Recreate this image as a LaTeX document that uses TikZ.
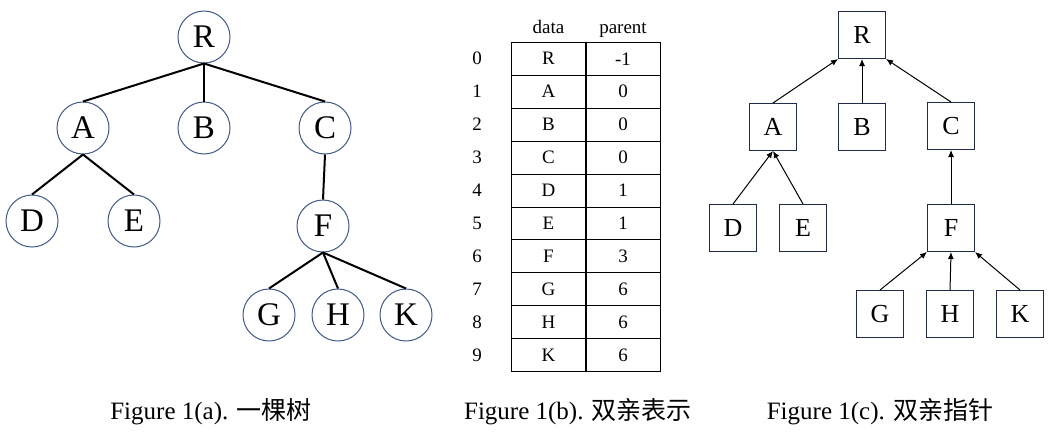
\documentclass[tikz,border=0pt]{standalone}
\usepackage{fontspec}
\setmainfont{Liberation Serif}
\newfontfamily\cjk{Noto Sans CJK SC}
\usepackage{tikz}
\usetikzlibrary{positioning,calc,arrows.meta}
\definecolor{CircleLine}{HTML}{41598B}
\definecolor{BoxLine}{HTML}{1F2D4A}

\tikzset{
	treenode/.style={
		circle,
		draw=CircleLine,
		line width=0.5pt,
		minimum size=26pt,
		inner sep=0pt,
		font=\fontsize{16.5}{18}\selectfont
	},
	treeedge/.style={black, line width=1pt},
	cell/.style={
		draw=black,
		line width=0.5pt,
		minimum width=37pt,
		minimum height=16.47pt,
		inner sep=0pt,
		font=\fontsize{9.5}{11}\selectfont
	},
	rowlabel/.style={inner sep=0pt, font=\fontsize{9.5}{11}\selectfont},
	ptrnode/.style={
		rectangle,
		draw=BoxLine,
		line width=0.5pt,
		minimum size=23.5pt,
		inner sep=0pt,
		font=\fontsize{13}{15}\selectfont
	},
	ptredge/.style={black, line width=0.5pt, -{Latex[length=3.5pt,width=3pt]}},
	caption/.style={anchor=base, inner sep=0pt, font=\fontsize{12.5}{14}\selectfont}
}

\begin{document}
\begin{tikzpicture}[x=0.5pt, y=-0.5pt]
	\useasboundingbox (0,0) rectangle (1052,439);

	% (a) tree
	\node[treenode] (aR) at (204,37) {R};
	\node[treenode] (aA) at (83,128) {A};
	\node[treenode] (aB) at (204,128) {B};
	\node[treenode] (aC) at (325,128) {C};
	\node[treenode] (aD) at (32,221) {D};
	\node[treenode] (aE) at (134,221) {E};
	\node[treenode] (aF) at (323,226) {F};
	\node[treenode] (aG) at (269,315) {G};
	\node[treenode] (aH) at (338,315) {H};
	\node[treenode] (aK) at (406,315) {K};
	\draw[treeedge] (aR.south) -- (aA.north);
	\draw[treeedge] (aR.south) -- (aB.north);
	\draw[treeedge] (aR.south) -- (aC.north);
	\draw[treeedge] (aA.south) -- (aD.north);
	\draw[treeedge] (aA.south) -- (aE.north);
	\draw[treeedge] (aC.south) -- (aF.north);
	\draw[treeedge] (aF.south) -- (aG.north);
	\draw[treeedge] (aF.south) -- (aH.north);
	\draw[treeedge] (aF.south) -- (aK.north);

	% (b) parent table
	\node[rowlabel, anchor=base] (hdata) at (548.5,33) {data};
	\node[rowlabel, anchor=base] (hparent) at (623,33) {parent};
	\foreach \dat/\up [count=\i from 0] in {R/-1,A/0,B/0,C/0,D/1,E/1,F/3,G/6,H/6,K/6} {
		\node[cell] (d\i) at (548.5,{42.3+32.94*(\i+0.5)}) {\dat};
		\node[cell] (p\i) at (623,{42.3+32.94*(\i+0.5)}) {\up};
		\node[rowlabel] (n\i) at (477,{42.3+32.94*(\i+0.5)}) {\i};
	}

	% (c) parent pointers
	\node[ptrnode] (cR) at (862,35) {R};
	\node[ptrnode] (cA) at (773,127) {A};
	\node[ptrnode] (cB) at (862,127) {B};
	\node[ptrnode] (cC) at (951,126) {C};
	\node[ptrnode] (cD) at (733,228) {D};
	\node[ptrnode] (cE) at (803,228) {E};
	\node[ptrnode] (cF) at (951,228) {F};
	\node[ptrnode] (cG) at (880,314) {G};
	\node[ptrnode] (cH) at (950,314) {H};
	\node[ptrnode] (cK) at (1020,314) {K};
	\draw[ptredge] (cA.north) -- (cR.south west);
	\draw[ptredge] (cB.north) -- (cR.south);
	\draw[ptredge] (cC.north) -- (cR.south east);
	\draw[ptredge] (cD.north) -- (cA.south);
	\draw[ptredge] (cE.north) -- (cA.south);
	\draw[ptredge] (cF.north) -- (cC.south);
	\draw[ptredge] (cG.north) -- (cF.south west);
	\draw[ptredge] (cH.north) -- (cF.south);
	\draw[ptredge] (cK.north) -- (cF.south east);

	% captions
	\node[caption] (capa) at (211,419) {Figure 1(a). {\cjk 一棵树}};
	\node[caption] (capb) at (578,419) {Figure 1(b). {\cjk 双亲表示}};
	\node[caption] (capc) at (880,419) {Figure 1(c). {\cjk 双亲指针}};
\end{tikzpicture}
\end{document}
